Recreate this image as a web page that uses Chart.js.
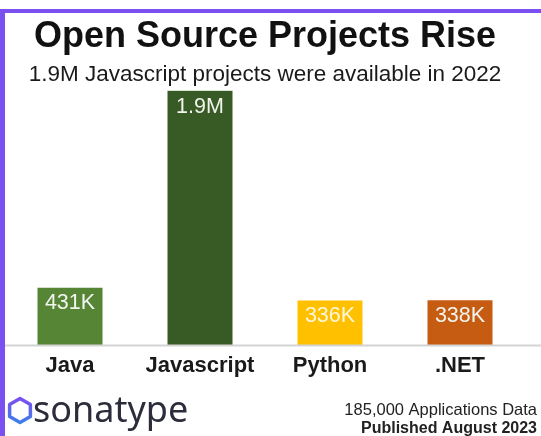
<!DOCTYPE html>
<html lang="en">
<head>
  <meta charset="UTF-8">
  <title>Open Source Projects Rise</title>
  <script src="https://cdn.jsdelivr.net/npm/chart.js"></script>
  <style>
    html, body {
      margin: 0;
      padding: 0;
      background: #ffffff;
    }
    #wrap {
      position: relative;
      width: 541px;
      height: 436px;
    }
  </style>
</head>
<body>
  <div id="wrap">
    <canvas id="projChart" width="541" height="436"></canvas>
  </div>

  <script>
    // data (thousands of projects)
    const categories = ['Java', 'Javascript', 'Python', '.NET'];
    const projects = [431, 1900, 336, 338];
    const valueLabels = ['431K', '1.9M', '336K', '338K'];
    const barColors = ['#568536', '#385a24', '#ffc000', '#c65b12'];

    const FONT = "'Liberation Sans', Arial, sans-serif";

    // frame, value labels, logo and footer
    const decorations = {
      id: 'decorations',
      beforeDraw(chart) {
        const c = chart.ctx;
        c.save();
        c.fillStyle = '#ffffff';
        c.fillRect(0, 0, chart.width, chart.height);
        c.fillStyle = '#7a50f0';
        c.fillRect(0, 9, chart.width, 4);
        c.fillRect(0, 9, 5, chart.height - 9);
        c.restore();
      },
      afterDatasetsDraw(chart) {
        const c = chart.ctx;
        const meta = chart.getDatasetMeta(0);
        const y0 = chart.scales.y.getPixelForValue(0);
        c.save();
        // baseline
        c.strokeStyle = '#d4d4d4';
        c.lineWidth = 2;
        c.beginPath();
        c.moveTo(5, y0);
        c.lineTo(chart.width, y0);
        c.stroke();

        // value labels inside bar tops
        c.font = '21.5px ' + FONT;
        c.textAlign = 'center';
        c.textBaseline = 'top';
        meta.data.forEach((bar, i) => {
          c.fillStyle = i === 2 ? '#fff6dc' : '#f2f4ee';
          c.fillText(valueLabels[i], bar.x, bar.y + 5);
        });

        // sonatype logo
        const cx = 20, cy = 410.5, r = 12;
        const grad = c.createLinearGradient(0, cy - r, 0, cy + r);
        grad.addColorStop(0, '#7b4ff0');
        grad.addColorStop(1, '#3d7fe8');
        c.strokeStyle = grad;
        c.lineWidth = 3.5;
        c.lineJoin = 'round';
        c.beginPath();
        for (let k = 0; k < 6; k++) {
          const a = -Math.PI / 2 + k * Math.PI / 3;
          const px = cx + r * Math.cos(a);
          const py = cy + r * Math.sin(a);
          if (k === 0) c.moveTo(px, py); else c.lineTo(px, py);
        }
        c.closePath();
        c.stroke();

        c.fillStyle = '#2c2d3a';
        c.font = "36px 'Noto Sans', sans-serif";
        c.textAlign = 'left';
        c.textBaseline = 'alphabetic';
        c.fillText('sonatype', 33, 422);

        // footer
        c.fillStyle = '#222222';
        c.textAlign = 'right';
        c.font = '16.5px ' + FONT;
        c.fillText('185,000 Applications Data', 537, 415);
        c.font = 'bold 16px ' + FONT;
        c.fillText('Published August 2023', 537, 433);
        c.restore();
      }
    };

    const ctx = document.getElementById('projChart').getContext('2d');
    const chart = new Chart(ctx, {
      type: 'bar',
      data: {
        labels: categories,
        datasets: [{
          data: projects,
          backgroundColor: barColors,
          borderWidth: 0,
          barPercentage: 0.5,
          categoryPercentage: 1.0
        }]
      },
      options: {
        responsive: false,
        animation: false,
        layout: {
          padding: { left: 5, right: 16, top: 0, bottom: 50 }
        },
        plugins: {
          legend: { display: false },
          tooltip: { enabled: false },
          title: {
            display: true,
            text: 'Open Source Projects Rise',
            color: '#111111',
            font: { family: FONT, size: 36, weight: 'bold', lineHeight: 1.2 },
            padding: { top: 15, bottom: 0 }
          },
          subtitle: {
            display: true,
            text: '1.9M Javascript projects were available in 2022',
            color: '#1a1a1a',
            font: { family: FONT, size: 22.5, lineHeight: 1.2 },
            padding: { top: 3, bottom: 2 }
          }
        },
        scales: {
          x: {
            grid: { display: false, drawTicks: false },
            border: { display: false },
            ticks: {
              color: '#1a1a1a',
              padding: 7,
              font: { family: FONT, size: 22, weight: 'bold', lineHeight: 1.2 }
            }
          },
          y: {
            display: false,
            min: 0,
            max: 1905
          }
        }
      },
      plugins: [decorations]
    });
  </script>
</body>
</html>
